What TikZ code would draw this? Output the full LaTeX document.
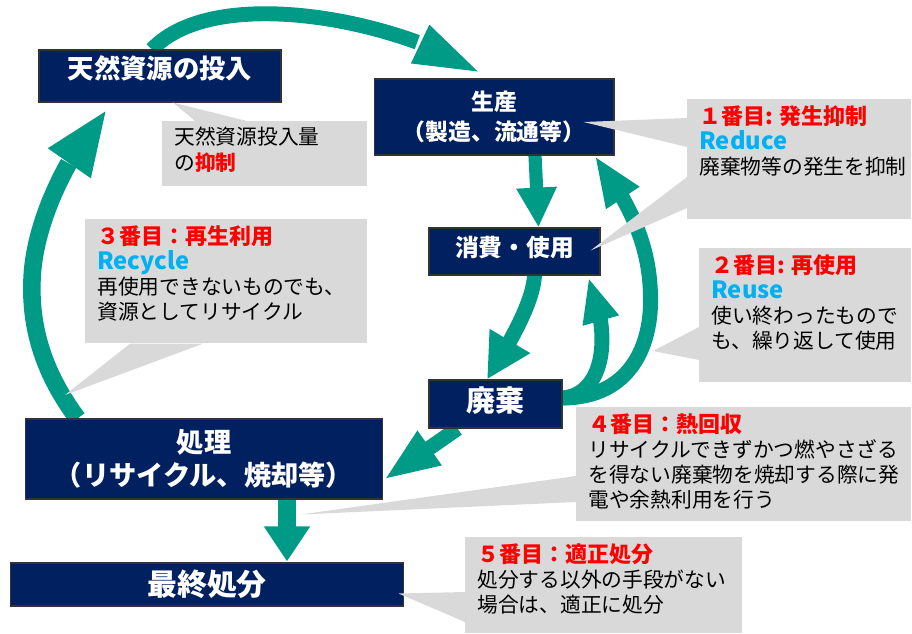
\documentclass[tikz,border=0pt]{standalone}
\usepackage{fontspec}
\setmainfont{Noto Sans CJK JP}
\usetikzlibrary{arrows.meta,bending,calc,backgrounds}

\definecolor{navy}{RGB}{0,32,96}
\definecolor{recyteal}{RGB}{0,155,135}
\definecolor{callgrey}{RGB}{217,217,217}
\definecolor{hotred}{RGB}{255,0,0}
\definecolor{skyblue}{RGB}{0,176,240}

\tikzset{
  stage/.style={fill=navy, draw=black!80, line width=0.6pt, text=white, inner sep=0pt, align=center},
  callout/.style={fill=callgrey, anchor=north west, inner xsep=0.24cm, inner ysep=0.12cm, font=\fontsize{11.8}{14.3}\selectfont},
  wedge/.style={fill=callgrey},
  flow/.style={draw=recyteal, line width=8.5pt},
}
\newcommand{\stepname}[1]{{\color{hotred}\bfseries\fontsize{12.5}{14.3}\selectfont #1}}
\newcommand{\engword}[1]{{\color{skyblue}\bfseries\fontsize{13.5}{14.3}\selectfont #1}}

\begin{document}
\begin{tikzpicture}[x=0.02cm, y=-0.02cm]
	\useasboundingbox (0,0) rectangle (912,633);

	% stages
	\node[stage, minimum width=4.84cm, minimum height=1.04cm, text depth=0.36cm, font=\bfseries\fontsize{15}{18}\selectfont] (src) at (160,76) {天然資源の投入};
	\node[stage, minimum width=4.8cm, minimum height=1.52cm, font=\bfseries\fontsize{13}{17}\selectfont] (prod) at (494,117) {生産\\（製造、流通等）};
	\node[stage, minimum width=3.42cm, minimum height=0.94cm, text depth=0.2cm, font=\bfseries\fontsize{13.5}{16}\selectfont] (use) at (514.5,251.5) {消費・使用};
	\node[stage, minimum width=2.66cm, minimum height=0.96cm, text depth=0.2cm, font=\bfseries\fontsize{16.5}{18}\selectfont] (waste) at (495.5,404) {廃棄};
	\node[stage, minimum width=7.16cm, minimum height=1.6cm, font=\bfseries\fontsize{15.5}{19}\selectfont] (treat) at (204,459) {処理\\（リサイクル、焼却等）};
	\node[stage, minimum width=7.88cm, minimum height=0.86cm, font=\bfseries\fontsize{17}{19}\selectfont] (final) at (207,584.5) {最終処分};

	% arrows
	\begin{pgfonlayer}{background}
	\draw[flow, -{Triangle[width=21.5pt,length=39pt]}] ($(src.north)+(-8,0)$) .. controls (215,-17) and (400,20) .. ($(prod.north)+(-12,-5)$);
	\draw[flow, line width=10pt, -{Triangle[width=26.6pt,length=38pt]}] ($(treat.north west)+(53,0)$) .. controls (45,375) and (30,330) .. (32,280) .. controls (34,220) and (70,150) .. ($(src.south west)+(69,6)$);
	\draw[flow, line width=7.5pt, -{Triangle[width=21.5pt,length=22.7pt]}] ($(prod.south)+(41,0)$) -- ($(use.north)+(24,0)$);
	\draw[flow, -{Triangle[width=25pt,length=25.5pt]}] ($(use.south)+(20,0)$) .. controls (533,300) and (515,335) .. ($(waste.north)+(-8.5,0)$);
	\draw[flow, -{Triangle[width=19.5pt,length=25.5pt]}] ($(waste.east)+(0,-6)$) .. controls (602,395) and (614,340) .. ($(use.south east)+(-12,2)$);
	\draw[flow, -{Triangle[width=20.5pt,length=29pt]}] ($(waste.east)+(0,-6)$) .. controls (630,398) and (655,345) .. (650,285) .. controls (647,240) and (628,200) .. ($(prod.south east)+(-20,0)$);
	\draw[flow, -{Triangle[width=21.5pt,length=32pt]}] ($(waste.south)+(-38,0)$) -- ($(treat.east)+(0,21)$);
	\draw[flow, line width=10pt, -{Triangle[width=25pt,length=20pt]}] ($(treat.south)+(83,0)$) -- ($(final.north)+(80,-1)$);
	\end{pgfonlayer}

	% callouts
	\coordinate (reusept) at (653,351);
	\coordinate (recyclept) at (65,395);

	\node[callout] (c0) at (162,121) {\begin{minipage}[t][1.06cm][t]{3.62cm}天然資源投入量\\の{\color{hotred}\bfseries 抑制}\end{minipage}};
	\fill[wedge] ($(c0.north west)+(33,0)$) -- ($(src.south)+(13,0)$) -- ($(c0.north west)+(85,0)$) -- cycle;

	\node[callout] (c1) at (687,99) {\begin{minipage}[t][2.16cm][t]{4cm}\stepname{１番目: 発生抑制}\\\engword{Reduce}\\廃棄物等の発生を抑制\end{minipage}};
	\fill[wedge] ($(c1.north west)+(0,19)$) -- ($(prod.east)+(-31,5)$) -- ($(c1.north west)+(0,48)$) -- cycle;
	\fill[wedge] ($(c1.north west)+(0,78)$) -- ($(use.east)+(-10,-1)$) -- ($(c1.north west)+(0,109)$) -- cycle;

	\node[callout] (c2) at (699,248) {\begin{minipage}[t][2.44cm][t]{3.76cm}\stepname{２番目: 再使用}\\\engword{Reuse}\\使い終わったもので\\も、繰り返して使用\end{minipage}};
	\fill[wedge] ($(c2.north west)+(0,79)$) -- (reusept) -- ($(c2.north west)+(0,112)$) -- cycle;

	\node[callout] (c3) at (85,219) {\begin{minipage}[t][2.24cm][t]{5.16cm}\stepname{３番目：再生利用}\\\engword{Recycle}\\再使用できないものでも、\\資源としてリサイクル\end{minipage}};
	\fill[wedge] ($(c3.south west)+(45,0)$) -- (recyclept) -- ($(c3.south west)+(118,0)$) -- cycle;

	\node[callout] (c4) at (576,407) {\begin{minipage}[t][2.04cm][t]{6.22cm}\stepname{４番目：熱回収}\\リサイクルできずかつ燃やさざる\\を得ない廃棄物を焼却する際に発\\電や余熱利用を行う\end{minipage}};
	\fill[wedge] ($(c4.north west)+(0,69)$) -- ($(treat.south east)+(-83,15)$) -- ($(c4.north west)+(0,95)$) -- cycle;

	\node[callout] (c5) at (465,537) {\begin{minipage}[t][1.68cm][t]{5.06cm}\stepname{５番目：適正処分}\\処分する以外の手段がない\\場合は、適正に処分\end{minipage}};
	\fill[wedge] ($(c5.north west)+(0,55)$) -- ($(final.east)+(-6,9)$) -- ($(c5.north west)+(0,85)$) -- cycle;

\end{tikzpicture}
\end{document}
